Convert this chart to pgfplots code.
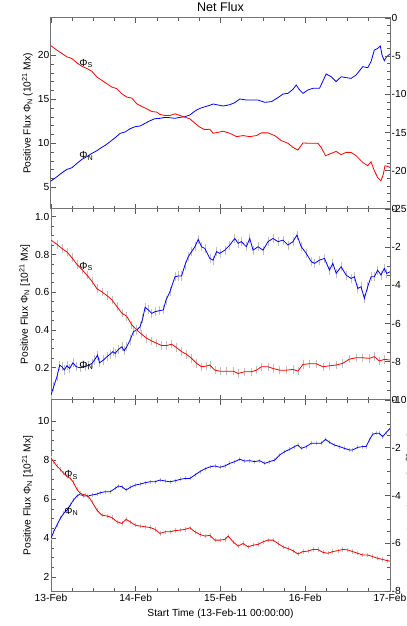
\documentclass[border=0pt]{standalone}
\usepackage{fontspec}
\setmainfont{Liberation Sans}
\usepackage{pgfplots}
\usepackage{pgfplotstable}
\pgfplotsset{compat=1.18}

\pgfplotstableread{
h v
0 5.72
1.69 6.21
3.11 6.66
4.52 7.04
5.93 7.23
7.34 7.72
8.75 8.18
10.16 8.48
11.58 8.86
12.99 9.16
13.93 9.43
15.34 9.77
16.75 10.19
18.16 10.64
19.58 11.13
20.99 11.29
22.40 11.66
23.81 11.89
25.22 11.97
26.64 12.27
28.05 12.57
29.46 12.80
30.87 12.84
32.28 12.95
33.69 12.91
35.11 12.84
36.52 12.95
37.93 13.03
39.34 13.22
40.75 13.67
42.16 13.97
43.58 14.16
44.99 14.32
45.92 14.47
46.87 14.39
48.75 14.24
50.63 14.39
52.04 14.62
53.45 15.04
55.34 14.92
57.22 14.92
58.63 14.92
60.51 14.66
62.40 14.73
64.28 15.19
65.69 15.60
67.10 15.68
68.51 16.13
69.45 16.63
70.40 16.06
71.34 15.68
72.75 16.06
74.16 16.25
76.04 16.25
77.45 17.46
77.92 17.88
79.34 17.57
80.75 17.01
82.16 17.57
83.57 17.46
84.98 17.38
86.40 17.76
88.28 18.71
89.69 18.60
90.63 19.28
91.57 20.60
92.51 20.79
93.26 21.06
93.73 20.04
94.39 19.39
95.05 19.85
96 20.15
}\topN

\pgfplotstableread{
h v
0 -3.64
1.69 -4.21
3.11 -4.65
4.52 -5.09
5.93 -5.31
7.34 -5.88
8.75 -6.32
10.16 -6.62
11.58 -6.97
12.99 -7.72
14.40 -8.16
15.81 -8.60
17.22 -9.04
18.64 -9.25
20.05 -9.91
21.46 -10.35
22.87 -10.48
24.28 -11.23
25.69 -11.58
27.11 -11.89
28.52 -12.24
29.93 -12.32
30.87 -12.63
32.28 -12.76
33.69 -12.76
35.11 -12.54
36.52 -12.76
37.93 -12.98
39.34 -13.20
40.75 -13.77
42.16 -14.30
43.58 -14.61
44.99 -14.56
45.92 -15.09
47.34 -14.96
48.75 -14.82
50.63 -15.09
52.51 -15.53
54.40 -15.39
56.28 -15.53
58.16 -15.39
59.57 -15.04
61.45 -15.04
63.34 -15.39
65.22 -16.05
67.10 -16.40
68.51 -16.93
69.92 -17.28
71.34 -16.36
73.22 -16.40
75.57 -16.40
76.51 -16.93
77.74 -18.03
79.34 -17.72
80.75 -17.46
82.16 -17.89
83.57 -17.59
84.98 -17.59
86.40 -18.03
88.28 -18.90
89.69 -19.34
90.63 -18.82
91.57 -20.00
92.51 -20.88
93.45 -21.32
94.11 -20.44
94.58 -19.34
95.33 -19.43
96 -19.56
}\topS

\pgfplotstableread{
h v
0 0.055
0.75 0.099
1.69 0.152
2.45 0.214
3.11 0.205
3.76 0.188
4.52 0.211
5.27 0.196
6.21 0.226
7.15 0.205
8.28 0.200
9.69 0.205
10.63 0.214
11.58 0.223
12.33 0.241
13.18 0.267
13.74 0.226
14.87 0.241
15.81 0.258
16.75 0.272
17.51 0.285
18.16 0.276
19.11 0.297
20.05 0.311
20.71 0.290
21.46 0.311
22.40 0.347
23.34 0.391
24.28 0.400
25.22 0.417
25.98 0.461
26.64 0.520
27.58 0.506
28.52 0.488
29.46 0.497
30.68 0.502
31.81 0.506
32.56 0.558
33.69 0.603
35.11 0.682
36.05 0.686
36.99 0.686
37.93 0.744
38.87 0.788
39.81 0.815
40.75 0.841
41.69 0.880
42.63 0.841
43.57 0.832
44.98 0.779
45.92 0.770
46.87 0.815
47.81 0.806
49.22 0.823
50.63 0.850
52.04 0.885
53.00 0.859
53.90 0.868
55.34 0.841
56.28 0.885
57.22 0.823
58.63 0.841
60.04 0.823
61.45 0.868
62.87 0.885
64.28 0.868
65.69 0.876
67.10 0.850
68.51 0.868
69.64 0.903
70.87 0.841
72.28 0.806
73.69 0.762
74.63 0.753
76.04 0.770
77.45 0.779
78.86 0.717
79.80 0.753
80.75 0.700
82.16 0.735
83.57 0.691
84.98 0.673
85.92 0.682
86.86 0.620
87.80 0.629
88.74 0.567
89.69 0.629
90.63 0.682
91.57 0.682
92.51 0.717
93.45 0.691
94.39 0.726
95.05 0.700
96 0.708
}\midN

\pgfplotstableread{
h v
0 -1.63
1.69 -1.85
3.11 -2.07
4.52 -2.25
5.93 -2.55
7.34 -2.90
8.75 -3.16
10.16 -3.46
11.58 -3.78
12.99 -4.17
14.40 -4.34
15.81 -4.53
17.22 -4.75
18.64 -5.10
20.05 -5.45
21.46 -5.62
22.87 -6.06
24.28 -6.33
25.69 -6.56
27.11 -6.77
28.52 -6.91
29.93 -7.03
31.34 -7.15
32.75 -7.15
34.16 -7.08
35.58 -7.26
36.99 -7.47
38.40 -7.61
39.81 -7.82
41.22 -8.08
42.63 -8.26
44.05 -8.22
44.98 -8.17
46.39 -8.44
47.81 -8.49
49.69 -8.49
51.57 -8.49
52.98 -8.61
54.86 -8.52
56.75 -8.52
58.16 -8.44
59.57 -8.26
61.45 -8.26
62.87 -8.35
64.75 -8.44
66.63 -8.44
68.51 -8.40
69.92 -8.49
71.34 -8.14
73.22 -8.10
75.10 -8.10
76.98 -8.26
78.86 -8.21
80.75 -8.17
82.63 -8.08
84.51 -7.86
86.40 -7.79
88.28 -7.79
90.16 -7.82
91.57 -7.73
92.98 -7.96
94.39 -7.87
96 -7.91
}\midS

\pgfplotstableread{
h v
0 3.99
0.75 4.33
1.69 4.68
2.64 5.02
3.58 5.27
4.52 5.44
5.46 5.70
6.40 5.96
7.34 6.16
8.28 6.26
9.22 6.16
10.16 6.16
11.58 6.21
12.99 6.26
13.93 6.33
15.34 6.38
16.75 6.38
18.16 6.55
19.11 6.67
20.05 6.64
21.27 6.47
22.40 6.60
23.81 6.72
25.22 6.77
26.64 6.84
28.05 6.89
29.46 6.89
30.87 6.98
32.28 6.93
33.69 6.89
35.11 6.94
36.52 7.01
37.93 7.06
39.34 7.06
40.75 7.24
42.16 7.41
43.58 7.55
44.98 7.65
46.39 7.70
47.81 7.63
49.22 7.70
50.63 7.83
52.04 7.92
53.45 8.04
54.87 7.95
56.28 7.97
57.69 7.92
59.10 7.97
60.51 7.83
61.92 7.92
63.34 8.00
64.75 8.26
66.16 8.43
67.57 8.55
68.98 8.69
69.92 8.77
70.87 8.60
72.28 8.69
73.69 8.86
75.10 8.86
76.51 8.86
77.74 9.06
78.86 8.91
80.28 8.77
81.69 8.69
83.10 8.60
84.51 8.52
85.45 8.52
86.86 8.65
88.28 8.69
89.22 8.69
90.16 9.03
91.10 9.32
92.04 9.37
92.98 9.37
93.92 9.20
94.86 9.40
96 9.62
}\botN

\pgfplotstableread{
h v
0 -2.44
0.75 -2.58
1.69 -2.77
2.64 -2.91
3.58 -3.07
4.52 -3.21
5.46 -3.28
6.40 -3.46
7.34 -3.74
8.28 -3.91
9.69 -3.98
10.63 -4.05
11.58 -4.26
12.99 -4.61
14.40 -4.82
15.81 -4.86
17.22 -4.92
18.64 -5.10
20.05 -5.17
21.27 -5.00
22.40 -5.10
23.81 -5.24
25.22 -5.28
26.64 -5.31
28.05 -5.34
29.46 -5.42
30.87 -5.59
32.28 -5.52
33.69 -5.52
35.11 -5.47
36.52 -5.45
37.93 -5.42
39.34 -5.35
40.75 -5.52
42.16 -5.63
43.58 -5.70
44.98 -5.67
46.39 -5.87
47.81 -5.87
49.22 -5.84
50.16 -5.70
51.57 -5.94
52.98 -6.12
54.40 -6.01
55.81 -6.15
57.22 -6.08
58.63 -6.05
60.04 -5.94
61.45 -5.87
62.87 -5.87
64.28 -6.01
65.69 -6.15
67.10 -6.22
68.51 -6.31
69.92 -6.45
71.34 -6.35
72.75 -6.33
74.16 -6.26
75.57 -6.26
76.98 -6.38
78.39 -6.42
79.80 -6.35
81.22 -6.31
82.63 -6.26
84.04 -6.28
85.45 -6.35
86.86 -6.42
88.28 -6.49
89.69 -6.49
91.10 -6.56
92.51 -6.63
93.92 -6.68
95.33 -6.73
96 -6.75
}\botS

\newcommand{\lbl}{\fontsize{10.3}{12}\selectfont}

\pgfplotsset{
 fluxbase/.style={
  scale only axis, width=339bp, height=191bp,
  xmin=0, xmax=96, xtick={0,24,48,72,96}, minor x tick num=3,
  tick align=inside,
  major tick length=5bp, minor tick length=3bp,
  every tick/.style={black!65, line width=0.7bp},
  axis line style={line width=1bp, black!55},
  tick label style={font=\lbl},
  label style={font=\lbl},
  /pgf/number format/assume math mode=true,
  yticklabel style={inner sep=1.5bp},
  clip=true,
 },
 leftax/.style={fluxbase, ytick pos=left, xtick pos=both},
 rightax/.style={fluxbase, axis x line=none, axis y line*=right, ytick pos=right},
 lineN/.style={blue, line width=0.8bp, mark=none},
 lineS/.style={red, line width=0.8bp, mark=none},
 errb/.style={draw=none, mark=none, forget plot,
   error bars/.cd, y dir=both, y fixed=#1, error mark=none,
   error bar style={draw=black!25, line width=0.6bp}},
}

\begin{document}
\begin{tikzpicture}
% ---------- top panel ----------
\begin{axis}[leftax, at={(51bp,417bp)}, anchor=south west,
  ymin=2.54, ymax=24.24, ytick={5,10,15,20}, minor y tick num=4,
  xticklabels={},
  title={Net Flux}, title style={font=\fontsize{12.6}{14}\selectfont, yshift=-3bp},
  ylabel={Positive Flux Φ\textsubscript{N} (10\textsuperscript{21} Mx)}]
\addplot[lineN] table[x=h,y=v]{\topN};
\node[anchor=west, inner sep=0pt, font=\lbl] at (axis cs:8,19.07) {Φ\textsubscript{S}};
\node[anchor=west, inner sep=0pt, font=\lbl] at (axis cs:8,8.56) {Φ\textsubscript{N}};
\end{axis}
\begin{axis}[rightax, at={(51bp,417bp)}, anchor=south west,
  ymin=-25, ymax=0, ytick={-25,-20,-15,-10,-5,0}, minor y tick num=4,
  ylabel shift=6bp,
  ylabel={Negative Flux Φ\textsubscript{S} (10\textsuperscript{21} Mx)}]
\addplot[lineS] table[x=h,y=v]{\topS};
\end{axis}
% ---------- middle panel ----------
\begin{axis}[leftax, at={(51bp,226bp)}, anchor=south west,
  ymin=0.029, ymax=1.041, ytick={0.2,0.4,0.6,0.8,1.0}, minor y tick num=3,
  yticklabel style={/pgf/number format/.cd, fixed, precision=1, fixed zerofill},
  xticklabels={},
  ylabel={Positive Flux Φ\textsubscript{N} [10\textsuperscript{21} Mx]}]
\addplot[errb=0.024] table[x=h,y=v]{\midN};
\addplot[lineN] table[x=h,y=v]{\midN};
\node[anchor=west, inner sep=0pt, font=\lbl] at (axis cs:8,0.737) {Φ\textsubscript{S}};
\node[anchor=west, inner sep=0pt, font=\lbl] at (axis cs:8,0.211) {Φ\textsubscript{N}};
\end{axis}
\begin{axis}[rightax, at={(51bp,226bp)}, anchor=south west,
  ymin=-10, ymax=0, ytick={-10,-8,-6,-4,-2,0}, minor y tick num=3,
  ylabel shift=6bp,
  ylabel={Negative Flux Φ\textsubscript{S} [10\textsuperscript{21} Mx]}]
\addplot[errb=0.22] table[x=h,y=v]{\midS};
\addplot[lineS] table[x=h,y=v]{\midS};
\end{axis}
% ---------- bottom panel ----------
\begin{axis}[leftax, at={(51bp,35bp)}, anchor=south west,
  ymin=1.30, ymax=11.075, ytick={2,4,6,8,10}, minor y tick num=3,
  xticklabels={13-Feb,14-Feb,15-Feb,16-Feb,17-Feb},
  xlabel={Start Time (13-Feb-11 00:00:00)},
  ylabel={Positive Flux Φ\textsubscript{N} [10\textsuperscript{21} Mx]}]
\addplot[errb=0.1] table[x=h,y=v]{\botN};
\addplot[lineN] table[x=h,y=v]{\botN};
\node[anchor=west, inner sep=0pt, font=\lbl] at (axis cs:3.75,7.25) {Φ\textsubscript{S}};
\node[anchor=west, inner sep=0pt, font=\lbl] at (axis cs:3.75,5.36) {Φ\textsubscript{N}};
\end{axis}
\begin{axis}[rightax, at={(51bp,35bp)}, anchor=south west,
  ymin=-8, ymax=0, ytick={-8,-6,-4,-2,0}, minor y tick num=3,
  ylabel={Negative Flux Φ\textsubscript{S} [10\textsuperscript{21} Mx]}]
\addplot[errb=0.09] table[x=h,y=v]{\botS};
\addplot[lineS] table[x=h,y=v]{\botS};
\end{axis}
\pgfresetboundingbox
\useasboundingbox (0,0) rectangle (407bp,626bp);
\end{tikzpicture}
\end{document}
